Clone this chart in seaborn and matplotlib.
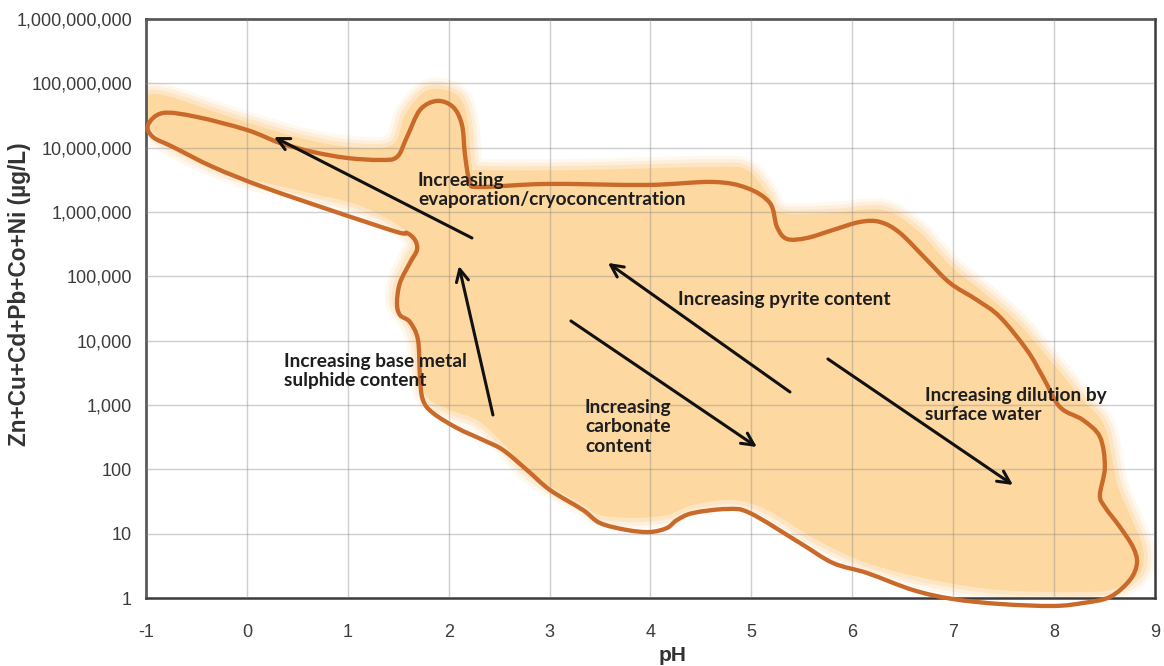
import numpy as np
import matplotlib
matplotlib.use("Agg")
import matplotlib.pyplot as plt
from matplotlib.path import Path
from matplotlib.patches import PathPatch
from matplotlib.ticker import FuncFormatter, FixedLocator, LogLocator, MultipleLocator
import seaborn as sns

# Field boundary (pH, log10 of summed metals in ug/L), traced clockwise from the acid tip
outline_ph = [-0.980, -0.832, -0.495, 0.001, 0.328, 0.655, 0.992, 1.319, 1.488, 1.587,
              1.716, 1.884, 2.043, 2.132, 2.162, 2.211, 2.310, 2.974, 3.965, 4.619,
              4.956, 5.184, 5.254, 5.353, 5.551, 5.809, 6.076, 6.275, 6.473, 6.740,
              6.968, 7.236, 7.464, 7.731, 7.890, 8.058, 8.286, 8.455, 8.504, 8.455,
              8.504, 8.653, 8.782, 8.822, 8.752, 8.554, 8.286, 7.989, 7.464, 6.998,
              6.602, 6.146, 5.809, 5.482, 4.986, 4.758, 4.421, 4.263, 4.163, 3.995,
              3.767, 3.499, 3.331, 3.004, 2.776, 2.538, 2.340, 2.082, 1.844, 1.745,
              1.716, 1.696, 1.616, 1.517, 1.488, 1.517, 1.616, 1.686, 1.666, 1.587,
              1.488, 0.824, 0.160, -0.336, -0.732, -0.931]
outline_logc = [7.353, 7.539, 7.477, 7.275, 7.073, 6.933, 6.840, 6.809, 6.855, 7.166,
                7.586, 7.726, 7.633, 7.353, 6.886, 6.467, 6.389, 6.436, 6.420, 6.467,
                6.373, 6.140, 5.767, 5.581, 5.596, 5.720, 5.845, 5.845, 5.674, 5.254,
                4.897, 4.632, 4.368, 3.855, 3.435, 2.969, 2.767, 2.503, 2.036, 1.601,
                1.415, 1.104, 0.793, 0.544, 0.280, 0.016, -0.078, -0.124, -0.093, -0.016,
                0.124, 0.389, 0.544, 0.855, 1.321, 1.383, 1.321, 1.212, 1.088, 1.026,
                1.057, 1.166, 1.368, 1.679, 1.990, 2.301, 2.456, 2.643, 2.876, 3.078,
                3.435, 4.011, 4.290, 4.399, 4.586, 4.897, 5.208, 5.410, 5.565, 5.674,
                5.689, 6.031, 6.389, 6.700, 7.011, 7.166]

# Shaded data field (pH, log10 ug/L)
field_ph = [-0.990, -0.792, -0.138, 0.526, 1.022, 1.438, 1.567, 1.745, 1.914, 2.112,
            2.191, 2.231, 2.330, 3.301, 4.619, 4.956, 5.155, 5.303, 5.809, 6.304,
            6.641, 6.968, 7.295, 7.632, 7.959, 8.286, 8.504, 8.623, 8.752, 8.881,
            8.851, 8.623, 8.286, 7.464, 6.800, 6.146, 5.650, 5.155, 4.818, 4.421,
            4.163, 3.827, 3.499, 3.331, 2.835, 2.508, 2.280, 2.013, 1.785, 1.716,
            1.696, 1.616, 1.488, 1.498, 1.597, 1.646, 1.151, 0.497, 0.000, -0.465,
            -0.861, -1.000]
field_logc = [7.788, 7.803, 7.462, 7.151, 7.011, 7.042, 7.508, 7.850, 7.912, 7.772,
              7.384, 6.731, 6.653, 6.653, 6.700, 6.653, 6.296, 5.985, 5.985, 6.031,
              5.720, 5.176, 4.757, 4.290, 3.700, 3.078, 2.658, 1.788, 1.290, 0.777,
              0.389, 0.155, 0.093, 0.124, 0.280, 0.544, 0.902, 1.368, 1.523, 1.446,
              1.290, 1.244, 1.290, 1.446, 1.912, 2.456, 2.767, 2.922, 3.125, 3.498,
              3.933, 4.290, 4.555, 4.897, 5.254, 5.612, 6.078, 6.342, 6.529, 6.809,
              7.151, 7.430]

# Process arrows: (tail pH, tail log10 c) -> (head pH, head log10 c)
arrow_tail_ph = [2.231, 2.439, 5.383, 3.212, 5.759]
arrow_tail_logc = [5.596, 2.845, 3.202, 4.306, 3.715]
arrow_head_ph = [0.269, 2.102, 3.579, 5.055, 7.593]
arrow_head_logc = [7.166, 5.161, 5.208, 2.347, 1.757]

label_texts = ["Increasing\nevaporation/cryoconcentration",
               "Increasing base metal\nsulphide content",
               "Increasing pyrite content",
               "Increasing\ncarbonate\ncontent",
               "Increasing dilution by\nsurface water"]
label_ph = [1.696, 0.368, 4.273, 3.351, 6.720]
label_logc = [6.342, 3.529, 4.632, 2.658, 3.000]

x_ticks = list(range(-1, 10))
y_ticks = [1, 10, 100, 1000, 10_000, 100_000, 1_000_000, 10_000_000, 100_000_000, 1_000_000_000]


def smooth_closed_path(xs, logys):
    """Closed Catmull-Rom curve through the points, as cubic Bezier segments.
    Control points are built in (pH, log10 c) space so the curve is smooth on the log axis."""
    p = np.column_stack([xs, logys]).astype(float)
    n = len(p)
    verts = [p[0]]
    codes = [Path.MOVETO]
    for i in range(n):
        p0, p1, p2, p3 = p[i - 1], p[i], p[(i + 1) % n], p[(i + 2) % n]
        c1 = p1 + (p2 - p0) / 6.0
        c2 = p2 - (p3 - p1) / 6.0
        verts += [c1, c2, p2]
        codes += [Path.CURVE4] * 3
    verts.append(p[0])
    codes.append(Path.CLOSEPOLY)
    v = np.array(verts)
    v[:, 1] = 10 ** v[:, 1]
    return Path(v, codes)


sns.set_theme(style="whitegrid")
plt.rcParams["font.family"] = ["Liberation Sans", "DejaVu Sans"]

fig = plt.figure(figsize=(11.64, 6.66), dpi=100)
ax = fig.add_axes([0.1254, 0.1021, 0.8668, 0.8694])
ax.set_facecolor("white")

ax.set_yscale("log")
ax.set_xlim(-1, 9)
ax.set_ylim(1, 1e9)

fill_col = "#FDD8A0"
edge_col = "#C9692A"

field_path = smooth_closed_path(field_ph, field_logc)
# soft-edged field: fading rims around a solid core
for w, a in [(16, 0.16), (11, 0.25), (6, 0.4)]:
    ax.add_patch(PathPatch(field_path, facecolor="none", edgecolor=fill_col, lw=w,
                           alpha=a, joinstyle="round", zorder=1))
ax.add_patch(PathPatch(field_path, facecolor=fill_col, edgecolor="none", zorder=1.2))

outline_path = smooth_closed_path(outline_ph, outline_logc)
ax.add_patch(PathPatch(outline_path, facecolor="none", edgecolor=edge_col, lw=3.1,
                       joinstyle="round", zorder=3, clip_on=False))

for tx, ty, hx, hy in zip(arrow_tail_ph, arrow_tail_logc, arrow_head_ph, arrow_head_logc):
    ax.annotate("", xy=(hx, 10 ** hy), xytext=(tx, 10 ** ty),
                arrowprops=dict(arrowstyle="->", lw=2.2, color="#111111",
                                mutation_scale=22, shrinkA=0, shrinkB=0),
                zorder=4)

for txt, lx, ly in zip(label_texts, label_ph, label_logc):
    ax.text(lx, 10 ** ly, txt, ha="left", va="center", fontsize=13.8,
            fontweight="bold", family=["Lato", "DejaVu Sans"], color="#1e1e1e",
            linespacing=1.2, zorder=5)

ax.xaxis.set_major_locator(FixedLocator(x_ticks))
ax.xaxis.set_minor_locator(MultipleLocator(0.5))
ax.yaxis.set_major_locator(FixedLocator(y_ticks))
ax.yaxis.set_minor_locator(LogLocator(base=10, subs=np.arange(2, 10), numticks=20))
ax.yaxis.set_major_formatter(FuncFormatter(lambda v, _: f"{int(round(v)):,}"))
ax.xaxis.set_major_formatter(FuncFormatter(lambda v, _: f"{int(v)}"))

# grid drawn over the shaded field
ax.set_axisbelow(False)
ax.grid(True, which="major", color="#888888", alpha=0.4, lw=1.0, zorder=2)
ax.grid(False, which="minor")
for s in ax.spines.values():
    s.set_visible(True)
    s.set_color("#3a3a3a")
    s.set_linewidth(1.8)
    s.set_zorder(2.5)

ax.tick_params(axis="both", which="major", labelsize=13, labelcolor="#3c3c3c",
               length=4, width=1.2, color="#3a3a3a", direction="out", pad=6)
ax.tick_params(axis="both", which="minor", length=3, width=1.0, color="#3a3a3a",
               direction="out")
ax.tick_params(axis="x", which="major", pad=15)

ax.set_xlabel("pH", fontsize=15, fontweight="bold", color="#333333")
ax.xaxis.set_label_coords(0.522, -0.083)
ax.set_ylabel("Zn+Cu+Cd+Pb+Co+Ni (\u00b5g/L)", fontsize=16.3, fontweight="bold",
              color="#333333")
ax.yaxis.set_label_coords(-0.114, 0.525)

fig.savefig("out.png", dpi=100)
